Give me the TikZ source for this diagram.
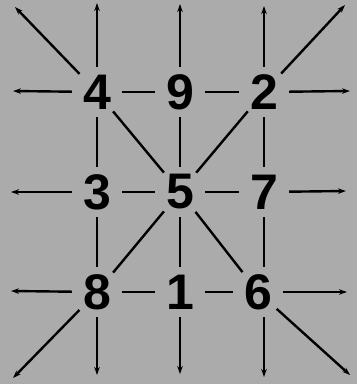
\documentclass[tikz,border=0pt]{standalone}
\usepackage{fontspec}
\setmainfont{Liberation Sans}
\usetikzlibrary{arrows.meta}
\definecolor{bg}{RGB}{171,171,171}
\begin{document}
\begin{tikzpicture}[x=1pt,y=-1pt,
  num/.style={circle,inner sep=0pt,minimum size=50pt,font=\fontsize{50}{50}\selectfont\bfseries},
  link/.style={line width=2.4pt,black},
  outarrow/.style={line width=2.4pt,black,-{Stealth[length=8pt,width=5.5pt]}}]
\fill[bg] (0,0) rectangle (357,384);
\useasboundingbox (0,0) rectangle (357,384);
% numbers
\node[num] (n4) at (97,92) {4};
\node[num] (n9) at (180,92) {9};
\node[num] (n2) at (264,92) {2};
\node[num] (n3) at (97,192) {3};
\node[num] (n5) at (180,192) {5};
\node[num] (n7) at (264,192) {7};
\node[num] (n8) at (97,292) {8};
\node[num] (n1) at (180,292) {1};
\node[num] (n6) at (258,292) {6};
% arrow tips
\coordinate (t4) at (97,3);
\coordinate (t9) at (180,4);
\coordinate (t2) at (264,6);
\coordinate (tl) at (15,7);
\coordinate (tr) at (345,5);
\coordinate (l4) at (13,91);
\coordinate (l3) at (11,192);
\coordinate (l8) at (11,291);
\coordinate (r2) at (350,91);
\coordinate (r7) at (346,191);
\coordinate (r6) at (347,292);
\coordinate (b8) at (97,375);
\coordinate (b1) at (180,374);
\coordinate (b6) at (264,377);
\coordinate (bl) at (13,378);
\coordinate (br) at (350,375);
% inner links
\draw[link] (n4) -- (n9);
\draw[link] (n9) -- (n2);
\draw[link] (n3) -- (n5);
\draw[link] (n5) -- (n7);
\draw[link] (n8) -- (n1);
\draw[link] (n1) -- (n6);
\draw[link] (n4) -- (n3);
\draw[link] (n3) -- (n8);
\draw[link] (n9) -- (n5);
\draw[link] (n5) -- (n1);
\draw[link] (n2) -- (n7);
\draw[link] (n7) -- (n6.north -| n7);
\draw[link] (n4) -- (n5);
\draw[link] (n2) -- (n5);
\draw[link] (n8) -- (n5);
\draw[link] (n6) -- (n5);
% outward arrows
\draw[outarrow] (n4) -- (t4);
\draw[outarrow] (n9) -- (t9);
\draw[outarrow] (n2) -- (t2);
\draw[outarrow] (n4) -- (tl);
\draw[outarrow] (n2) -- (tr);
\draw[outarrow] (n4) -- (l4);
\draw[outarrow] (n3) -- (l3);
\draw[outarrow] (n8) -- (l8);
\draw[outarrow] (n2) -- (r2);
\draw[outarrow] (n7) -- (r7);
\draw[outarrow] (n6) -- (r6);
\draw[outarrow] (n8) -- (b8);
\draw[outarrow] (n1) -- (b1);
\draw[outarrow] (n6.south -| b6) -- (b6);
\draw[outarrow] (n8) -- (bl);
\draw[outarrow] (n6) -- (br);
\end{tikzpicture}
\end{document}
